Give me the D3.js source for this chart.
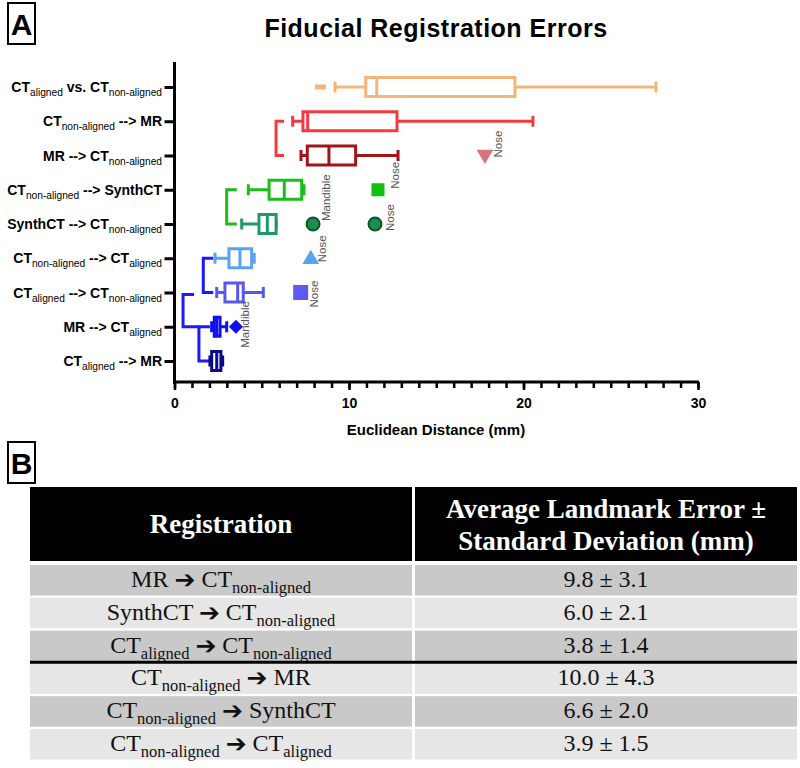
<!DOCTYPE html>
<html>
<head>
<meta charset="utf-8">
<script src="https://cdn.jsdelivr.net/npm/d3@7"></script>
<style>
  body { margin: 0; background: #fff; }
  svg { display: block; }
  text { white-space: pre; }
</style>
</head>
<body>
<div id="chart"></div>
<script>
// ---- data ----
const categories = [
  "CT_{aligned} vs. CT_{non-aligned}",
  "CT_{non-aligned} --> MR",
  "MR --> CT_{non-aligned}",
  "CT_{non-aligned} --> SynthCT",
  "SynthCT --> CT_{non-aligned}",
  "CT_{non-aligned} --> CT_{aligned}",
  "CT_{aligned} --> CT_{non-aligned}",
  "MR --> CT_{aligned}",
  "CT_{aligned} --> MR"
];
const mins    = [9.2, 6.77, 7.25, 4.23, 3.85, 2.32, 2.42, 2.13, 2.03];
const q1s     = [10.96, 7.36, 7.61, 5.42, 4.84, 3.12, 2.89, 2.28, 2.13];
const medians = [11.59, 7.63, 8.85, 6.29, 5.32, 3.75, 3.62, 2.42, 2.42];
const q3s     = [19.51, 12.75, 10.38, 7.29, 5.82, 4.42, 3.94, 2.61, 2.66];
const maxs    = [27.59, 20.54, 12.81, 7.42, 5.82, 4.57, 5.09, 2.99, 2.76];

const outlierRows   = [0, 2, 3, 4, 4, 5, 6, 7];
const outlierValues = [8.36, 17.79, 11.66, 7.94, 11.49, 7.81, 7.23, 3.52];
const outlierNames  = ["", "Nose", "Nose", "Mandible", "Nose", "Nose", "Nose", "Mandible"];

const xTicks = [0, 10, 20, 30];

const tableFrom = ["MR", "SynthCT", "CT_{aligned}", "CT_{non-aligned}", "CT_{non-aligned}", "CT_{non-aligned}"];
const tableTo   = ["CT_{non-aligned}", "CT_{non-aligned}", "CT_{non-aligned}", "MR", "SynthCT", "CT_{aligned}"];
const tableMeans = [9.8, 6.0, 3.8, 10.0, 6.6, 3.9];
const tableSDs   = [3.1, 2.1, 1.4, 4.3, 2.0, 1.5];

// ---- styles ----
const rowColors = ["#f4b57a", "#f23b40", "#a3131b", "#19bf19", "#1f9a67",
                   "#5aa3f2", "#5858ee", "#0f0ff0", "#0b0b88"];
const sans = "'Liberation Sans', Arial, sans-serif";
const serif = "'Liberation Serif', 'Times New Roman', serif";

const W = 800, H = 768;
const svg = d3.select("#chart").append("svg")
  .attr("width", W).attr("height", H)
  .attr("viewBox", [0, 0, W, H]);

const x = d3.scaleLinear().domain([0, 30]).range([174.5, 698]);
const y = d3.scalePoint().domain(d3.range(categories.length)).range([87, 361]);

// text with _{sub} markup
function rich(sel, str, subSize, shift, subWeight) {
  const parts = str.split(/_\{([^}]*)\}/);
  let cur = sel.property("__shift") || 0;
  parts.forEach((p, i) => {
    if (!p) return;
    const isSub = i % 2 === 1;
    const target = isSub ? shift : 0;
    const t = sel.append("tspan").text(p).attr("dy", target - cur);
    cur = target;
    if (isSub) t.attr("font-size", subSize).attr("font-weight", subWeight);
  });
  sel.property("__shift", cur);
  return sel;
}

// panel labels
function panelLabel(letter, bx, by) {
  svg.append("rect").attr("x", bx).attr("y", by).attr("width", 27).attr("height", 41)
    .attr("fill", "none").attr("stroke", "#000").attr("stroke-width", 2);
  svg.append("text").attr("x", bx + 13.5).attr("y", by + 32)
    .attr("text-anchor", "middle").attr("font-family", sans)
    .attr("font-weight", "bold").attr("font-size", 30).text(letter);
}
panelLabel("A", 8, 3);
panelLabel("B", 8, 442);

// title
svg.append("text").attr("x", 436).attr("y", 37)
  .attr("text-anchor", "middle").attr("font-family", sans)
  .attr("font-weight", "bold").attr("font-size", 25).attr("letter-spacing", 0.5)
  .text("Fiducial Registration Errors");

// ---- axes ----
const axisY = 382;
const minor = svg.append("g").attr("transform", `translate(0,${axisY})`)
  .call(d3.axisBottom(x).tickValues(d3.range(0, 31)).tickSize(6).tickFormat(""));
const major = svg.append("g").attr("transform", `translate(0,${axisY})`)
  .call(d3.axisBottom(x).tickValues(xTicks).tickSize(8).tickPadding(8).tickFormat(d3.format("d")));
[minor, major].forEach(g => {
  g.select(".domain").remove();
  g.selectAll(".tick line").attr("stroke", "#000").attr("stroke-width", 2.5);
});
major.selectAll(".tick text").attr("font-family", sans).attr("font-weight", "bold")
  .attr("font-size", 14).attr("fill", "#000");

const yAx = svg.append("g").attr("transform", `translate(${x(0)},0)`)
  .call(d3.axisLeft(y).tickSize(10).tickFormat(""));
yAx.select(".domain").remove();
yAx.selectAll(".tick line").attr("stroke", "#000").attr("stroke-width", 3);

svg.append("line").attr("x1", x(0)).attr("x2", x(0)).attr("y1", 62).attr("y2", axisY + 1.5)
  .attr("stroke", "#000").attr("stroke-width", 3);
svg.append("line").attr("x1", x(0) - 1.5).attr("x2", x(30) + 1).attr("y1", axisY).attr("y2", axisY)
  .attr("stroke", "#000").attr("stroke-width", 3);

svg.append("text").attr("x", 436).attr("y", 435)
  .attr("text-anchor", "middle").attr("font-family", sans)
  .attr("font-weight", "bold").attr("font-size", 15)
  .text("Euclidean Distance (mm)");

// category labels
categories.forEach((c, i) => {
  const t = svg.append("text").attr("x", 162).attr("y", y(i) + 5)
    .attr("text-anchor", "end").attr("font-family", sans)
    .attr("font-weight", "bold").attr("font-size", 14).attr("fill", "#000");
  rich(t, c, 10.2, 4, "normal");
});

// ---- brackets ----
function bracket(rA, rB, xv, xs, color, dA = 0, xsB = xs) {
  svg.append("path")
    .attr("d", `M${x(xs)},${y(rA) + dA}H${x(xv)}V${y(rB)}H${x(xsB)}`)
    .attr("fill", "none").attr("stroke", color).attr("stroke-width", 3);
}
bracket(1, 2, 5.82, 6.28, rowColors[1]);
bracket(3, 4, 2.99, 3.57, rowColors[3]);
bracket(5, 6, 1.65, 2.22, "#1a1aff");
bracket(7, 8, 1.40, 2.03, "#1a1aff");
bracket(6, 7, 0.49, 1.12, "#1a1aff", 2, 1.40);

// ---- boxes ----
const boxH = 19, capH = 11;
const rows = svg.append("g").selectAll("g")
  .data(categories.map((c, i) => i))
  .join("g")
  .attr("stroke", i => rowColors[i])
  .attr("stroke-width", 3)
  .attr("fill", "none");

rows.append("line")
  .attr("x1", i => x(mins[i])).attr("x2", i => x(q1s[i]))
  .attr("y1", i => y(i)).attr("y2", i => y(i));
rows.append("line")
  .attr("x1", i => x(q3s[i])).attr("x2", i => x(maxs[i]))
  .attr("y1", i => y(i)).attr("y2", i => y(i));
rows.append("line")
  .attr("x1", i => x(mins[i])).attr("x2", i => x(mins[i]))
  .attr("y1", i => y(i) - capH / 2).attr("y2", i => y(i) + capH / 2);
rows.append("line")
  .attr("x1", i => x(maxs[i])).attr("x2", i => x(maxs[i]))
  .attr("y1", i => y(i) - capH / 2).attr("y2", i => y(i) + capH / 2);
rows.append("rect")
  .attr("x", i => x(q1s[i])).attr("width", i => x(q3s[i]) - x(q1s[i]))
  .attr("y", i => y(i) - boxH / 2).attr("height", boxH)
  .attr("fill", "#fff");
rows.append("line")
  .attr("x1", i => x(medians[i])).attr("x2", i => x(medians[i]))
  .attr("y1", i => y(i) - boxH / 2).attr("y2", i => y(i) + boxH / 2);

// ---- outliers ----
const sq = d3.symbol().type(d3.symbolSquare);
const tri = d3.symbol().type(d3.symbolTriangle).size(120);
const labelNudgeY = [0, 2, -1, -3, 7, 4, 15, 21];
const labelNudgeX = [0, 17, 21, 17, 19, 15, 17, 13];

outlierValues.forEach((v, k) => {
  const r = outlierRows[k];
  const cx = x(v), cy = y(r);
  const g = svg.append("g").attr("transform", `translate(${cx},${cy})`);
  if (r === 0) {
    g.append("rect").attr("x", -5.5).attr("y", -2.5).attr("width", 11).attr("height", 5)
      .attr("fill", rowColors[0]);
  } else if (r === 2) {
    g.append("path").attr("d", tri()).attr("transform", "translate(0,-1) rotate(180)")
      .attr("fill", "#d9727c");
  } else if (r === 3) {
    g.append("path").attr("d", sq.size(170)()).attr("fill", "#12c012");
  } else if (r === 4) {
    g.append("circle").attr("r", 6.5).attr("fill", "#1f8c4f")
      .attr("stroke", "#0b5526").attr("stroke-width", 2);
  } else if (r === 5) {
    g.append("path").attr("d", tri()).attr("transform", "translate(0,1)").attr("fill", rowColors[5]);
  } else if (r === 6) {
    g.append("path").attr("d", sq.size(225)()).attr("fill", "#5b5bf2");
  } else if (r === 7) {
    g.append("path").attr("d", sq.size(100)()).attr("transform", "rotate(45)").attr("fill", rowColors[7]);
  }
  if (outlierNames[k]) {
    svg.append("text")
      .attr("transform", `translate(${cx + labelNudgeX[k]},${cy + labelNudgeY[k]}) rotate(-90)`)
      .attr("font-family", sans).attr("font-size", 11.5).attr("fill", "#555")
      .text(outlierNames[k]);
  }
});

// ---- table (panel B) ----
const tX0 = 30, tDiv = 413.5, tX1 = 797;
const leftC = (tX0 + tDiv - 1.5) / 2, rightC = (tDiv + 1.5 + tX1) / 2;
const tbl = svg.append("g");

tbl.append("rect").attr("x", tX0).attr("y", 487).attr("width", tDiv - 1.5 - tX0).attr("height", 74).attr("fill", "#000");
tbl.append("rect").attr("x", tDiv + 1.5).attr("y", 487).attr("width", tX1 - tDiv - 1.5).attr("height", 74).attr("fill", "#000");

tbl.append("text").attr("x", leftC).attr("y", 533).attr("text-anchor", "middle")
  .attr("font-family", serif).attr("font-weight", "bold").attr("font-size", 27).attr("fill", "#fff")
  .text("Registration");
tbl.append("text").attr("x", rightC).attr("y", 518).attr("text-anchor", "middle")
  .attr("font-family", serif).attr("font-weight", "bold").attr("font-size", 27).attr("fill", "#fff")
  .text("Average Landmark Error \u00b1");
tbl.append("text").attr("x", rightC).attr("y", 550).attr("text-anchor", "middle")
  .attr("font-family", serif).attr("font-weight", "bold").attr("font-size", 27).attr("fill", "#fff")
  .text("Standard Deviation (mm)");

const rowTop = i => 565 + i * 32.8;
tableMeans.forEach((m, i) => {
  const fill = i % 2 === 0 ? "#c9c9c9" : "#e6e6e6";
  tbl.append("rect").attr("x", tX0).attr("y", rowTop(i)).attr("width", tDiv - 1.5 - tX0).attr("height", 30.5).attr("fill", fill);
  tbl.append("rect").attr("x", tDiv + 1.5).attr("y", rowTop(i)).attr("width", tX1 - tDiv - 1.5).attr("height", 30.5).attr("fill", fill);

  const t = tbl.append("text").attr("x", leftC).attr("y", rowTop(i) + 22)
    .attr("text-anchor", "middle").attr("font-family", serif)
    .attr("font-size", 24).attr("fill", "#111");
  rich(t, tableFrom[i], 16.5, 6, "normal");
  const cur = t.property("__shift");
  t.append("tspan").attr("dy", -cur).text(" ");
  t.append("tspan").attr("dy", 1).attr("font-family", "'DejaVu Sans', sans-serif")
    .attr("font-size", 25).text("\u2794");
  t.append("tspan").attr("dy", -1).text(" ");
  t.property("__shift", 0);
  rich(t, tableTo[i], 16.5, 6, "normal");

  tbl.append("text").attr("x", rightC).attr("y", rowTop(i) + 22)
    .attr("text-anchor", "middle").attr("font-family", serif)
    .attr("font-size", 24).attr("fill", "#111")
    .text(`${m.toFixed(1)} \u00b1 ${tableSDs[i].toFixed(1)}`);
});

// separator between the two groups of registrations
tbl.append("line").attr("x1", tX0).attr("x2", tX1)
  .attr("y1", rowTop(3) - 1.2).attr("y2", rowTop(3) - 1.2)
  .attr("stroke", "#000").attr("stroke-width", 3);
</script>
</body>
</html>
